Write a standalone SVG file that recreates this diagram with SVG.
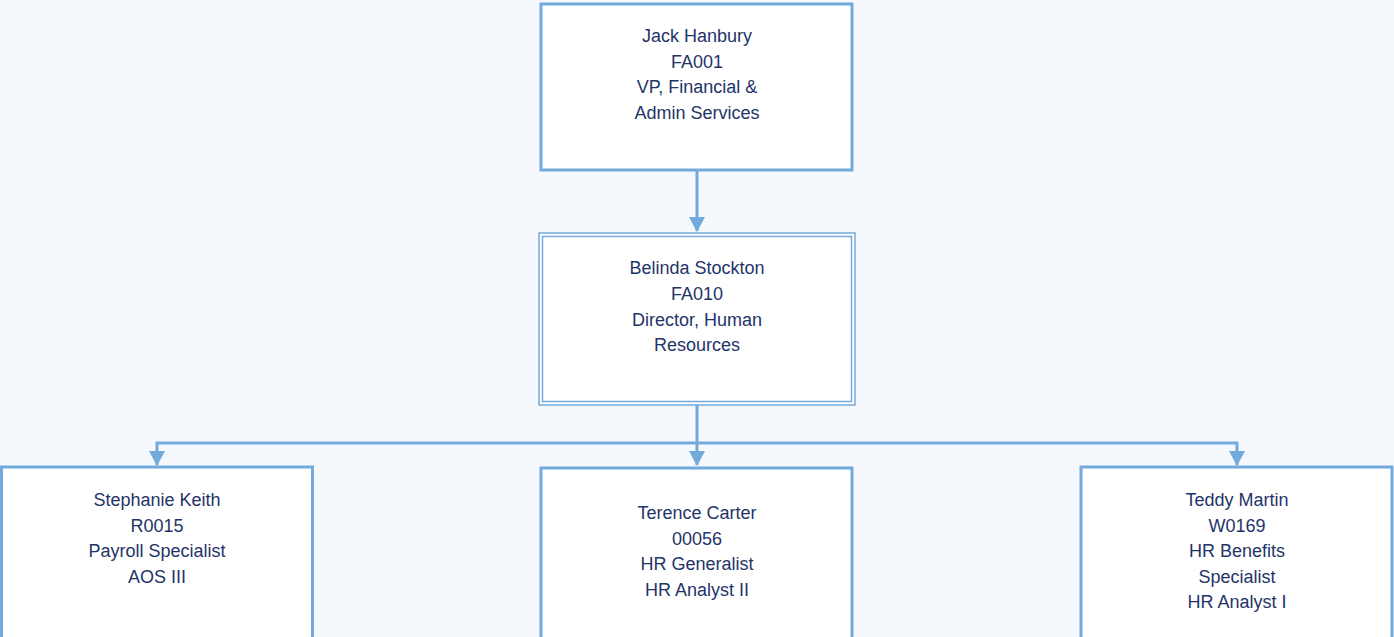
<svg xmlns="http://www.w3.org/2000/svg" width="1394" height="637" viewBox="0 0 1394 637">
<style>
.bg{fill:#f5f8fc}
.box{fill:#ffffff;stroke:#72aadb;stroke-width:3}
.dbl{stroke:#72aadb;stroke-width:1.5}
.conn{fill:none;stroke:#72aadb;stroke-width:3}
.t{font-family:"Liberation Sans",Arial,sans-serif;font-size:18px;fill:#1f3468;text-anchor:middle}
</style>
<defs>
<marker id="ah" markerWidth="17" markerHeight="16" refX="15" refY="8.5" orient="auto" markerUnits="userSpaceOnUse" viewBox="0 0 16 17">
<path d="M0,0 L16,8.5 L0,17 Z" fill="#72aadb"/>
</marker>
</defs>
<rect class="bg" x="0" y="0" width="1394" height="637"/>
<g id="connectors">
<path class="conn" d="M697,170 V231" marker-end="url(#ah)"/>
<path class="conn" d="M697,405 V465" marker-end="url(#ah)"/>
<path class="conn" d="M697,443 H157 V465" marker-end="url(#ah)"/>
<path class="conn" d="M697,443 H1237 V465" marker-end="url(#ah)"/>
</g>
<g id="node-jack">
<rect class="box" x="541" y="4" width="311" height="166"/>
<text class="t" x="697" y="42">Jack Hanbury</text>
<text class="t" x="697" y="68">FA001</text>
<text class="t" x="697" y="93">VP, Financial &amp;</text>
<text class="t" x="697" y="119">Admin Services</text>
</g>
<g id="node-belinda">
<rect class="dbl" fill="#ffffff" x="539" y="233" width="316" height="172"/>
<rect class="dbl" fill="none" x="542.5" y="236.5" width="309" height="165"/>
<text class="t" x="697" y="274">Belinda Stockton</text>
<text class="t" x="697" y="300">FA010</text>
<text class="t" x="697" y="326">Director, Human</text>
<text class="t" x="697" y="351">Resources</text>
</g>
<g id="node-stephanie">
<rect class="box" x="1.5" y="467" width="311" height="180"/>
<text class="t" x="157" y="506">Stephanie Keith</text>
<text class="t" x="157" y="532">R0015</text>
<text class="t" x="157" y="557">Payroll Specialist</text>
<text class="t" x="157" y="583">AOS III</text>
</g>
<g id="node-terence">
<rect class="box" x="541" y="468" width="311" height="180"/>
<text class="t" x="697" y="519">Terence Carter</text>
<text class="t" x="697" y="545">00056</text>
<text class="t" x="697" y="570">HR Generalist</text>
<text class="t" x="697" y="596">HR Analyst II</text>
</g>
<g id="node-teddy">
<rect class="box" x="1081" y="467" width="311" height="180"/>
<text class="t" x="1237" y="506">Teddy Martin</text>
<text class="t" x="1237" y="532">W0169</text>
<text class="t" x="1237" y="557">HR Benefits</text>
<text class="t" x="1237" y="583">Specialist</text>
<text class="t" x="1237" y="608">HR Analyst I</text>
</g>
</svg>
